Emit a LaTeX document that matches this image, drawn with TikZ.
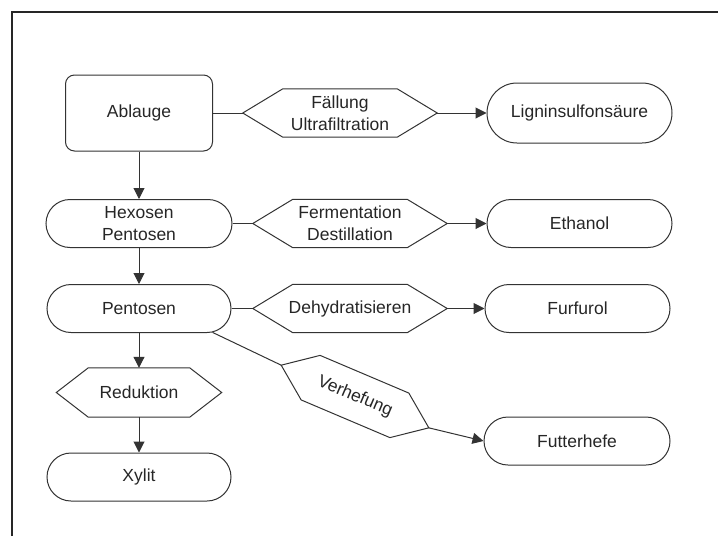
\documentclass[tikz,border=0pt]{standalone}
\usepackage{fontspec}
\setmainfont{Liberation Sans}
\usetikzlibrary{shapes.misc,arrows.meta,calc}
\newcommand{\hexdraw}[2]{\draw[conn] (#1.west) -- ($(#1.north west)!#2pt!(#1.north east)$) -- ($(#1.north east)!#2pt!(#1.north west)$) -- (#1.east) -- ($(#1.south east)!#2pt!(#1.south west)$) -- ($(#1.south west)!#2pt!(#1.south east)$) -- cycle;}
\begin{document}
\begin{tikzpicture}[x=1pt,y=-1pt,
  every node/.style={font=\fontsize{17.5}{22}\selectfont, align=center, text=black!85},
  box/.style={draw=black!80, line width=1pt, rounded corners=9pt, minimum width=147pt, minimum height=76pt, inner sep=0pt},
  caps/.style={draw=black!80, line width=1pt, rounded rectangle, minimum height=48pt, inner sep=0pt},
  hexa/.style={minimum height=48pt, inner sep=0pt},
  conn/.style={draw=black!80, line width=1pt},
  arr/.style={conn, -{Triangle[length=11pt,width=11pt]}}]
\useasboundingbox (0,0) rectangle (718,536);
\draw[line width=2pt, black!85] (12,536) -- (12,12) -- (718,12);

% left column
\node[box] (abl) at (139,113) {Ablauge};
\node[caps, minimum width=186pt] (hex) at (139,223.5) {Hexosen\\Pentosen};
\node[caps, minimum width=184pt] (pen) at (139,308.5) {Pentosen};
\node[hexa, minimum width=165pt, minimum height=49pt] (red) at (139,392.5) {Reduktion};
\node[caps, minimum width=184pt] (xyl) at (139,477) {Xylit};

% process hexagons
\node[hexa, minimum width=194pt] (fae) at (340,113) {F\"allung\\Ultrafiltration};
\node[hexa, minimum width=194pt] (fer) at (350,223.5) {Fermentation\\Destillation};
\node[hexa, minimum width=194pt] (deh) at (350,308.5) {Dehydratisieren};
\node[hexa, minimum width=160pt, rotate=-23] (ver) at (355,396.5) {Verhefung};

% products
\node[caps, minimum width=185pt, minimum height=60pt] (lig) at (579.5,113) {Ligninsulfons\"aure};
\node[caps, minimum width=185pt] (eth) at (579.5,223.5) {Ethanol};
\node[caps, minimum width=185pt] (fur) at (577.5,308.5) {Furfurol};
\node[caps, minimum width=186pt] (fut) at (577,441) {Futterhefe};

\hexdraw{fae}{40}
\hexdraw{fer}{40}
\hexdraw{deh}{40}
\hexdraw{red}{32}
\hexdraw{ver}{32}

% connectors
\draw[conn] (abl.east) -- (fae.west);
\draw[arr] (fae.east) -- (lig.west);
\draw[conn] (hex.east) -- (fer.west);
\draw[arr] (fer.east) -- (eth.west);
\draw[conn] (pen.east) -- (deh.west);
\draw[arr] (deh.east) -- (fur.west);
\draw[conn] (pen.-18) -- (ver.west);
\draw[arr] (ver.east) -- (fut.west);
\draw[arr] (abl.south) -- (hex.north);
\draw[arr] (hex.south) -- (pen.north);
\draw[arr] (pen.south) -- (red.north);
\draw[arr] (red.south) -- (xyl.north);
\end{tikzpicture}
\end{document}
